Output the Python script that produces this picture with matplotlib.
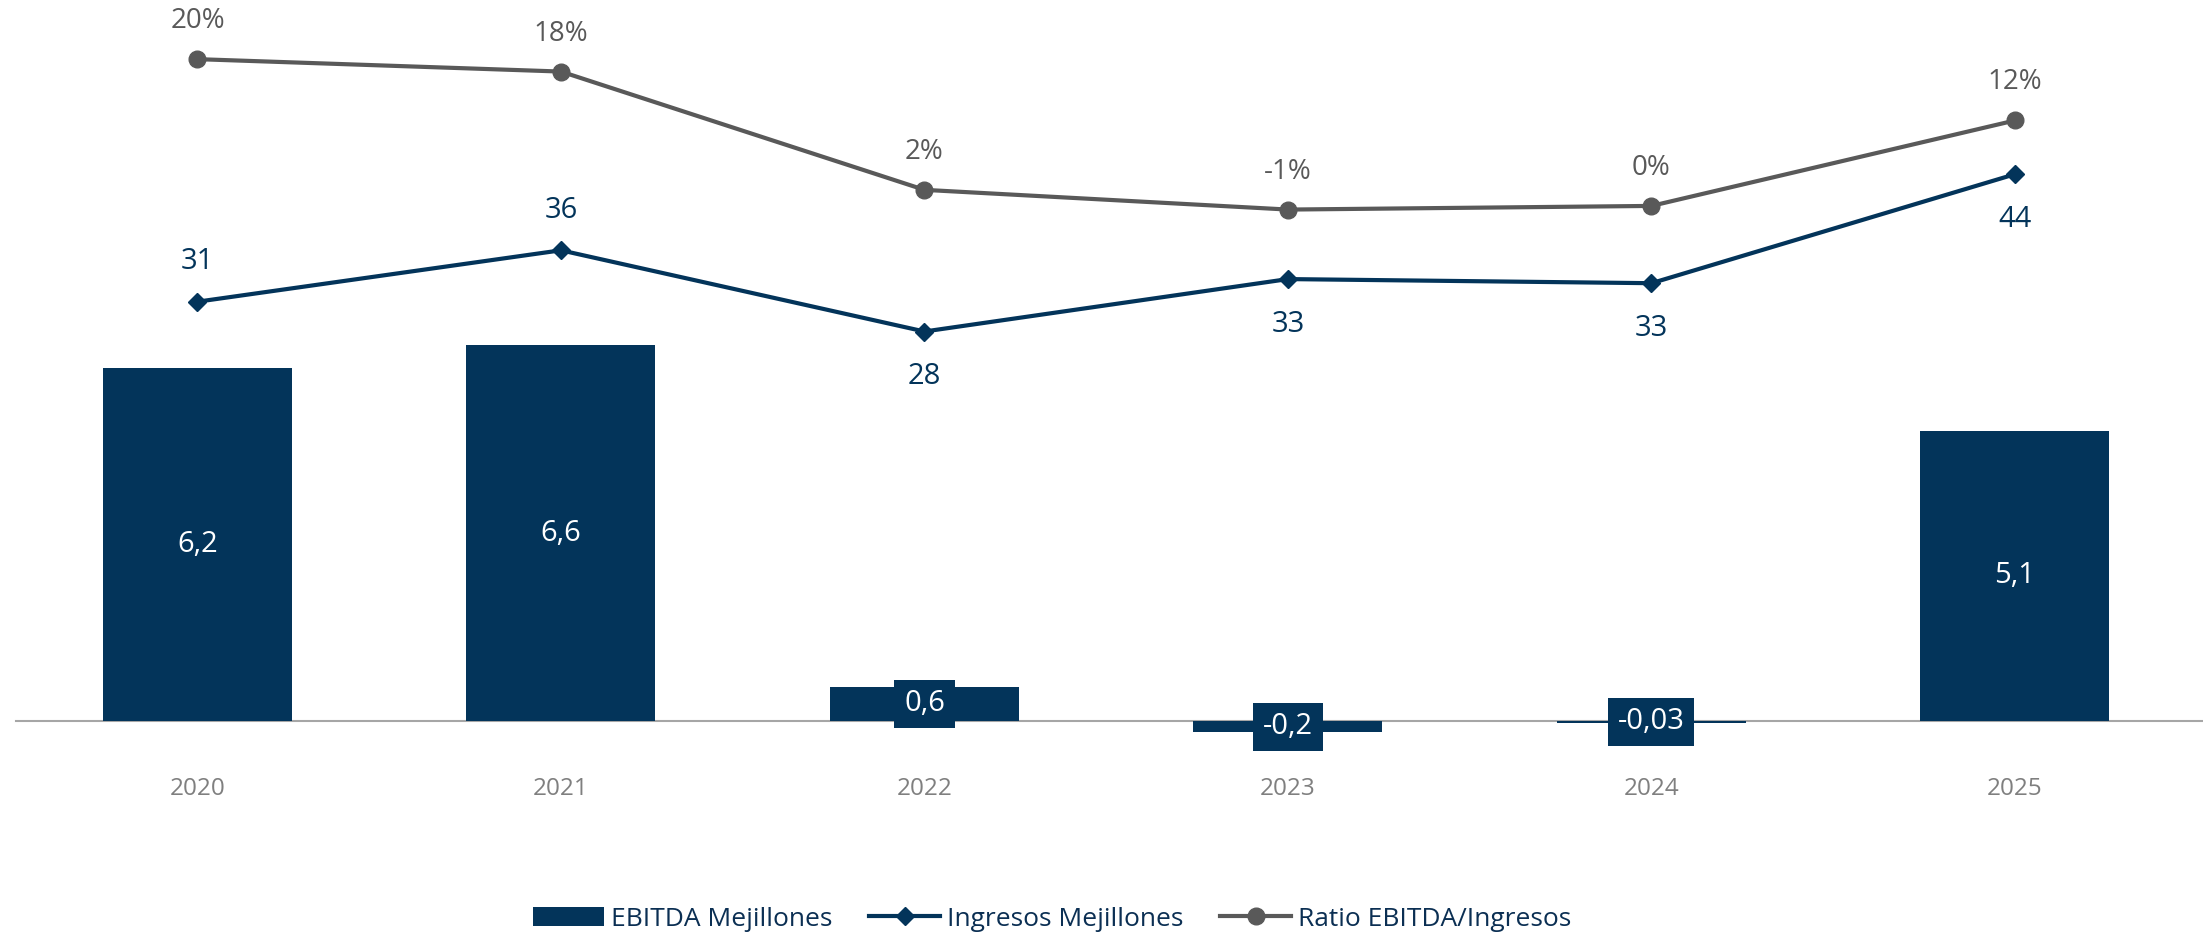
import matplotlib
matplotlib.use("Agg")
import matplotlib.pyplot as plt
import numpy as np

plt.rcParams['font.family'] = ['Open Sans', 'DejaVu Sans']

# data
years = ['2020', '2021', '2022', '2023', '2024', '2025']
ebitda = [6.2, 6.6, 0.6, -0.2, -0.03, 5.1]
ingresos = [31.2, 36.2, 28.3, 33.4, 33.0, 43.6]
ratio = [20.0, 18.3, 2.1, -0.6, -0.1, 11.6]

navy = '#03345A'
gray = '#595959'

x = np.arange(len(years))

fig = plt.figure(figsize=(22.03, 9.35), dpi=100)
ax = fig.add_axes([0.00713, 0.187, 0.990, 0.813])

# bars
bars = ax.bar(x, ebitda, width=0.52, color=navy, zorder=2, label='EBITDA Mejillones')
ax.axhline(0, xmin=0, xmax=1.01, color='#A6A6A6', lw=1.5, zorder=1, clip_on=False)
ax.set_xlim(-0.5, len(years) - 0.5)
ax.set_ylim(-0.689, 12.67)
for s in ax.spines.values():
    s.set_visible(False)
ax.set_yticks([])
ax.set_xticks(x)
ax.set_xticklabels(years, fontsize=17.5, color='#7F7F7F')
ax.tick_params(axis='x', length=0, pad=12)

for xi, v in zip(x, ebitda):
    ax.text(xi, v / 2, str(v).replace('.', ','), ha='center', va='center',
            color='white', fontsize=21, zorder=4,
            bbox=dict(facecolor=navy, edgecolor='none', pad=7))

# ingresos line
ax2 = ax.twinx()
ax2.set_ylim(-13.4, 60.55)
ax2.axis('off')
l2, = ax2.plot(x, ingresos, color=navy, lw=3, marker='D', markersize=9,
               label='Ingresos Mejillones', zorder=3)
for i, (xi, v) in enumerate(zip(x, ingresos)):
    off = 40 if i < 2 else -45
    ax2.annotate(f"{round(v)}", (xi, v), xytext=(0, off), textcoords='offset pixels',
                 ha='center', va='center', fontsize=21, color=navy)

# ratio line
ax3 = ax.twinx()
ax3.set_ylim(-76.0, 28.1)
ax3.axis('off')
l3, = ax3.plot(x, ratio, color=gray, lw=3, marker='o', markersize=12,
               label='Ratio EBITDA/Ingresos', zorder=3)
for xi, v in zip(x, ratio):
    ax3.annotate(f"{round(v)}%", (xi, v), xytext=(0, 38), textcoords='offset pixels',
                 ha='center', va='center', fontsize=20, color=gray)

fig.legend([bars, l2, l3], ['EBITDA Mejillones', 'Ingresos Mejillones', 'Ratio EBITDA/Ingresos'],
           loc='center', bbox_to_anchor=(1052 / 2203, 0.017), ncol=3, frameon=False,
           fontsize=19, labelcolor='#0B2F53', handlelength=2.7, columnspacing=1.4,
           handletextpad=0.25)

plt.savefig('out.png', dpi=100)
plt.close()
